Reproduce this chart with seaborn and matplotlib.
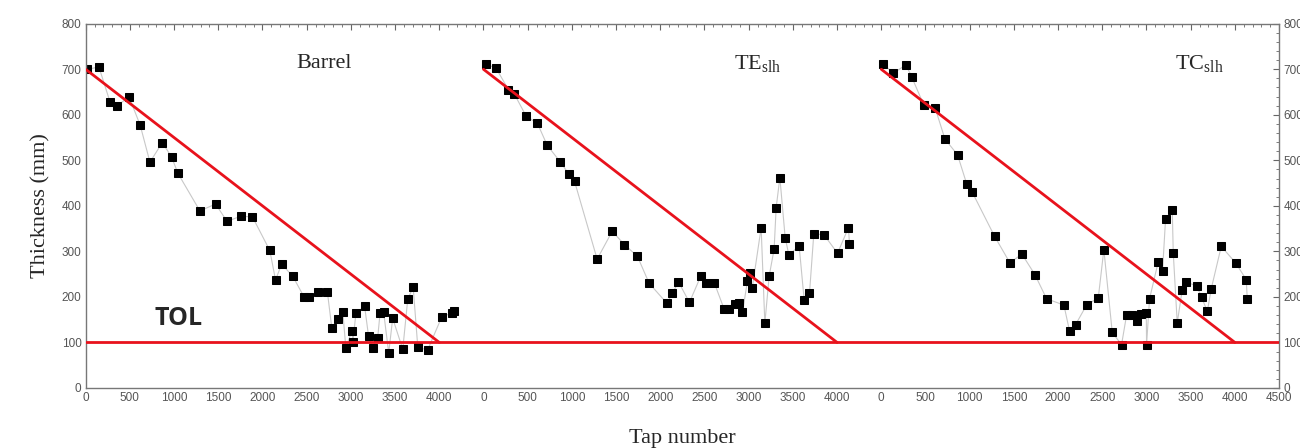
import numpy as np
import pandas as pd
import matplotlib
matplotlib.use("Agg")
import matplotlib.pyplot as plt
import seaborn as sns
from matplotlib.ticker import MultipleLocator, FixedLocator

barrel_tap = [20, 150, 276, 352, 492, 617, 727, 867, 973, 1042, 1292, 1470, 1599, 1753, 1886,
              2083, 2148, 2216, 2341, 2470, 2530, 2625, 2735, 2784, 2860, 2909, 2943, 3011, 3023,
              3057, 3155, 3200, 3246, 3303, 3330, 3371, 3428, 3473, 3587, 3644, 3705, 3757, 3867,
              4026, 4140, 4170]
barrel_thk = [700, 705, 628, 620, 639, 577, 496, 539, 507, 472, 389, 404, 366, 377, 376,
              302, 237, 272, 246, 200, 200, 210, 210, 132, 152, 167, 88, 125, 102,
              164, 180, 114, 88, 110, 164, 166, 77, 153, 85, 196, 221, 90, 83,
              155, 165, 170]

te_tap = [27, 144, 283, 351, 483, 611, 721, 871, 969, 1030, 1286, 1456, 1595, 1742, 1874,
          2075, 2138, 2206, 2330, 2459, 2519, 2613, 2723, 2780, 2848, 2893, 2930, 2986, 3013,
          3040, 3141, 3183, 3232, 3288, 3311, 3353, 3413, 3455, 3571, 3628, 3688, 3737, 3854,
          4005, 4129, 4140]
te_thk = [712, 702, 655, 645, 597, 581, 533, 496, 469, 454, 283, 344, 315, 289, 230,
          186, 208, 233, 188, 246, 230, 230, 173, 173, 185, 186, 166, 235, 253,
          219, 352, 142, 246, 305, 396, 462, 330, 292, 312, 193, 208, 339, 336,
          296, 352, 317]

tc_tap = [23, 136, 279, 347, 482, 611, 720, 863, 965, 1029, 1282, 1455, 1591, 1738, 1870,
          2066, 2130, 2198, 2322, 2455, 2518, 2613, 2718, 2775, 2831, 2888, 2933, 2998, 3001,
          3035, 3133, 3182, 3216, 3292, 3303, 3348, 3405, 3450, 3567, 3623, 3688, 3733, 3846,
          4008, 4129, 4140]
tc_thk = [712, 691, 710, 682, 621, 614, 547, 512, 449, 430, 333, 275, 294, 249, 196,
          182, 125, 139, 182, 198, 304, 122, 95, 160, 160, 148, 163, 165, 95,
          196, 277, 258, 371, 390, 297, 143, 216, 233, 224, 200, 168, 218, 311,
          275, 238, 196]

panel_names = ["Barrel", "TE$_{\\mathrm{slh}}$", "TC$_{\\mathrm{slh}}$"]
panel_offset = [0, 4500, 9000]
title_pos = [(2700, 712), (3100, 712), (3600, 712)]

# campaign limit: 700 mm at start, 100 mm (TOL) at tap 4000
limit_tap = [0, 4000]
limit_thk = [700, 100]
tol = 100

sns.set_style("white")
plt.rcParams["font.family"] = ["Liberation Sans", "DejaVu Sans"]
plt.rcParams["mathtext.fontset"] = "custom"
plt.rcParams["mathtext.rm"] = "Liberation Serif"

frames = []
for name, off, taps, thk in zip(panel_names, panel_offset,
                                 [barrel_tap, te_tap, tc_tap],
                                 [barrel_thk, te_thk, tc_thk]):
    frames.append(pd.DataFrame({"tap": np.array(taps) + off, "thk": thk, "part": name}))
df = pd.concat(frames, ignore_index=True)

fig = plt.figure(figsize=(13, 4.48), dpi=100)
ax = fig.add_axes([0.0659, 0.134, 0.918, 0.813])

for name in panel_names:
    d = df[df["part"] == name]
    sns.lineplot(data=d, x="tap", y="thk", ax=ax, color="#c8c8c8", lw=0.8,
                 marker="s", markersize=5.2, markerfacecolor="black",
                 markeredgecolor="black", sort=True, legend=False)

for off in panel_offset:
    ax.plot(np.array(limit_tap) + off, limit_thk, color="#e8121c", lw=2, zorder=3)
ax.axhline(tol, color="#e8121c", lw=2, zorder=3)

for name, off, (tx, ty) in zip(panel_names, panel_offset, title_pos):
    ax.text(off + tx, ty, name, ha="center", va="center", fontsize=16,
            family="Liberation Serif")
ax.text(1050, 152, "TOL", ha="center", va="center", fontsize=18,
        fontweight="bold", family=["Open Sans", "DejaVu Sans"])

ax.set_xlim(0, 13500)
ax.set_ylim(0, 800)
xt = np.arange(0, 13501, 500)
ax.xaxis.set_major_locator(FixedLocator(xt))
ax.set_xticklabels([str(v % 4500) if v < 13500 else "4500" for v in xt])
ax.xaxis.set_minor_locator(MultipleLocator(100))
ax.yaxis.set_major_locator(MultipleLocator(100))
ax.yaxis.set_minor_locator(MultipleLocator(20))
ax.tick_params(which="both", direction="in", top=True, right=True,
               color="#666666", labelsize=8.5, labelcolor="#555555",
               labelright=True, pad=3)
ax.tick_params(which="major", length=4)
ax.tick_params(which="minor", length=2)
for s in ax.spines.values():
    s.set_color("#777777")
    s.set_linewidth(1)

ax.set_xlabel("Tap number", fontsize=16, family="Liberation Serif", labelpad=18)
ax.set_ylabel("Thickness (mm)", fontsize=16, family="Liberation Serif", labelpad=8)

fig.savefig("out.png", dpi=100)
